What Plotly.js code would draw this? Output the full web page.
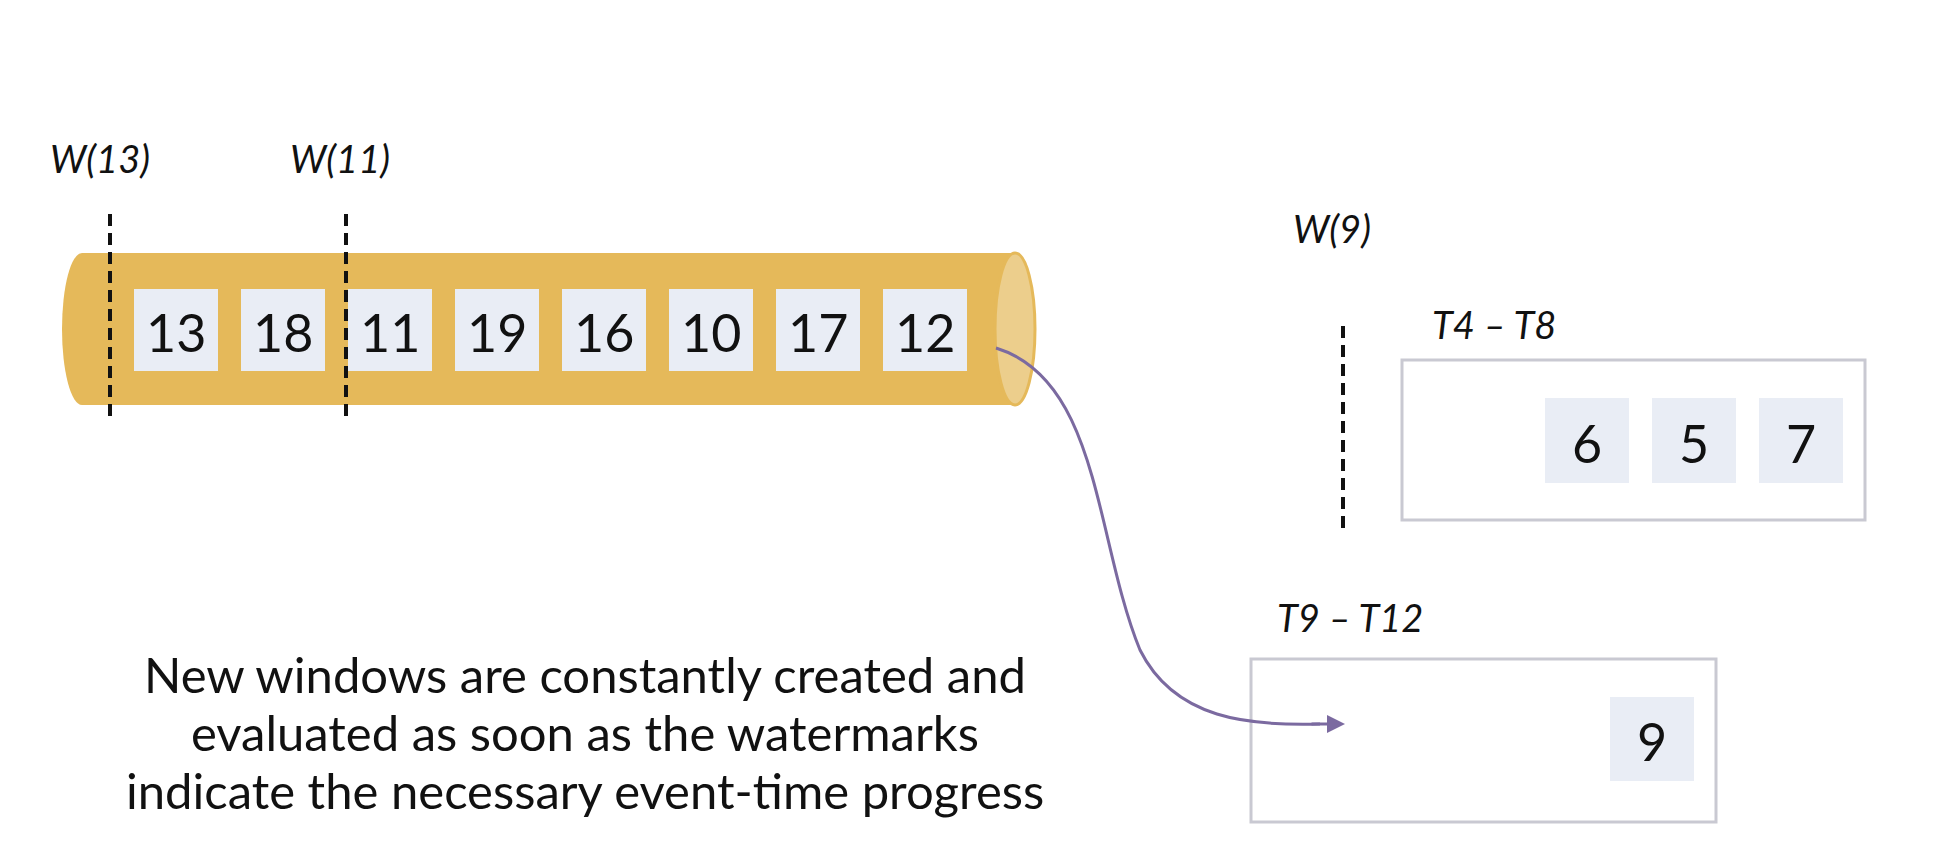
<!DOCTYPE html>
<html>
<head>
<meta charset="utf-8">
<script src="https://cdn.plot.ly/plotly-3.0.1.min.js"></script>
<style>html,body{margin:0;padding:0;background:#fff}#chart{width:1952px;height:852px}</style>
</head>
<body>
<div id="chart"></div>
<script>
// stream contents, left to right
var streamEvents = [13, 18, 11, 19, 16, 10, 17, 12];
var window1Events = [6, 5, 7];
var window2Events = [9];
var watermarks = ['W(13)', 'W(11)', 'W(9)'];
var windowLabels = ['T4 – T8', 'T9 – T12'];
var caption = ['New windows are constantly created and',
               'evaluated as soon as the watermarks',
               'indicate the necessary event-time progress'];

var shapes = [];
var annotations = [];
var boxFill = '#e9edf5';
var tube = '#e5b95a';
var numFont = {family: 'Lato, Noto Sans, sans-serif', size: 52, color: '#111'};
var labelFont = {family: 'Lato, Noto Sans, sans-serif', size: 38, color: '#111', style: 'italic'};

function text(x, y, t, font) {
  annotations.push({x: x, y: y, xref: 'x', yref: 'y', text: t, showarrow: false, font: font});
}
function eventBox(cx, y0, y1, v) {
  shapes.push({type: 'rect', x0: cx - 42, x1: cx + 42, y0: y0, y1: y1, fillcolor: boxFill, line: {width: 0}});
  text(cx, (y0 + y1) / 2 + 2, String(v), numFont);
}
function dashed(x, y0, y1) {
  shapes.push({type: 'line', x0: x, x1: x, y0: y0, y1: y1, line: {color: '#111', width: 4, dash: '12px,7px'}});
}

// tube
shapes.push({type: 'circle', x0: 62, x1: 102, y0: 253, y1: 405, fillcolor: tube, line: {width: 0}});
shapes.push({type: 'rect', x0: 82, x1: 1015, y0: 253, y1: 405, fillcolor: tube, line: {width: 0}});
shapes.push({type: 'circle', x0: 995, x1: 1035, y0: 253, y1: 405, fillcolor: '#ecce8c', line: {color: tube, width: 3}});

streamEvents.forEach(function (v, i) {
  eventBox(176 + i * 107, 289, 371, v);
});

dashed(110, 214, 423);
dashed(346, 214, 423);
dashed(1343, 326, 533);
text(100, 158, watermarks[0], labelFont);
text(340, 158, watermarks[1], labelFont);
text(1332, 228, watermarks[2], labelFont);

// windows
shapes.push({type: 'rect', x0: 1402, x1: 1865, y0: 360, y1: 520, line: {color: '#c9c9d2', width: 3}});
shapes.push({type: 'rect', x0: 1251, x1: 1716, y0: 659, y1: 822, line: {color: '#c9c9d2', width: 3}});
text(1494, 324, windowLabels[0], labelFont);
text(1350, 617, windowLabels[1], labelFont);
window1Events.forEach(function (v, i) {
  eventBox(1587 + i * 107, 398, 483, v);
});
window2Events.forEach(function (v) {
  eventBox(1652, 697, 781, v);
});

// arrow
shapes.push({type: 'path', path: 'M 996 348 C 1100 380, 1095 540, 1140 650 C 1175 720, 1250 726, 1320 724',
  line: {color: '#7b6aa0', width: 3}});
annotations.push({x: 1345, y: 724, ax: 1310, ay: 724, xref: 'x', yref: 'y', axref: 'x', ayref: 'y',
  text: '', showarrow: true, arrowhead: 2, arrowsize: 1.2, arrowwidth: 3, arrowcolor: '#7b6aa0'});

caption.forEach(function (t, i) {
  text(585, 674 + i * 58, t, {family: 'Lato, Noto Sans, sans-serif', size: 49, color: '#111'});
});

var layout = {
  width: 1952, height: 852,
  margin: {l: 0, r: 0, t: 0, b: 0},
  paper_bgcolor: '#fff', plot_bgcolor: '#fff',
  xaxis: {range: [0, 1952], visible: false, fixedrange: true},
  yaxis: {range: [852, 0], visible: false, fixedrange: true},
  shapes: shapes,
  annotations: annotations,
  showlegend: false
};
Plotly.newPlot('chart', [], layout, {displayModeBar: false, staticPlot: true});
</script>
</body>
</html>
